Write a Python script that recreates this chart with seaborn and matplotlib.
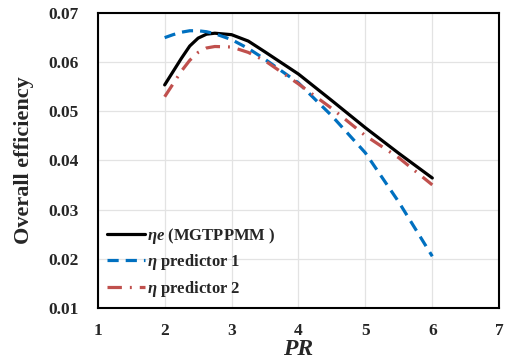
import numpy as np
import pandas as pd
import matplotlib
matplotlib.use("Agg")
import matplotlib.pyplot as plt
import seaborn as sns

pr = [2.0, 2.125, 2.25, 2.375, 2.5, 2.625, 2.75, 3.0, 3.25, 3.5, 4.0, 4.5, 5.0, 5.5, 6.0]
eta_e = [0.0553, 0.0580, 0.0607, 0.0632, 0.0648, 0.0656, 0.0658, 0.0655, 0.0642, 0.0620, 0.0575, 0.0521, 0.0466, 0.0414, 0.0364]
eta_p1 = [0.0649, 0.0655, 0.0660, 0.0663, 0.0663, 0.0661, 0.0657, 0.0645, 0.0627, 0.0605, 0.0557, 0.0490, 0.0415, 0.0315, 0.0205]
eta_p2 = [0.0529, 0.0555, 0.0581, 0.0603, 0.0619, 0.0628, 0.0631, 0.0630, 0.0619, 0.0602, 0.0555, 0.0505, 0.0450, 0.0405, 0.0350]

sns.set_style("whitegrid")
plt.rcParams['font.family'] = ['Liberation Serif', 'DejaVu Serif']
plt.rcParams['font.weight'] = 'bold'
plt.rcParams['mathtext.fontset'] = 'custom'
plt.rcParams['mathtext.it'] = 'Liberation Serif:italic:bold'
plt.rcParams['mathtext.rm'] = 'Liberation Serif:bold'
plt.rcParams['mathtext.bf'] = 'Liberation Serif:bold'

df = pd.DataFrame({"PR": pr, "e": eta_e, "p1": eta_p1, "p2": eta_p2})

fig = plt.figure(figsize=(5.2, 3.63), dpi=100)
ax = fig.add_axes([0.188, 0.1515, 0.772, 0.814])

sns.lineplot(x="PR", y="e", data=df, color="black", lw=2.3, ax=ax,
             label=r"$\eta e$ (MGTPPMM )")
sns.lineplot(x="PR", y="p1", data=df, color="#0070C0", lw=2.3, ax=ax,
             label=r"$\eta$ predictor 1")
sns.lineplot(x="PR", y="p2", data=df, color="#C0504D", lw=2.3, ax=ax,
             label=r"$\eta$ predictor 2")
ax.lines[1].set_dashes([3.5, 2.2])
ax.lines[2].set_dashes([4.5, 2.5, 0.6, 2.5])

ax.set_xlim(1, 7)
ax.set_ylim(0.01, 0.07)
ax.set_xticks([1, 2, 3, 4, 5, 6, 7])
ax.set_yticks([0.01, 0.02, 0.03, 0.04, 0.05, 0.06, 0.07])
ax.set_yticklabels(["0.01", "0.02", "0.03", "0.04", "0.05", "0.06", "0.07"])
ax.tick_params(labelsize=12.5, length=0)
ax.tick_params(axis="x", pad=11)
ax.tick_params(axis="y", pad=14)
for t in ax.get_xticklabels() + ax.get_yticklabels():
    t.set_fontweight('bold')
ax.grid(color="#e3e3e3", lw=0.9)
for s in ax.spines.values():
    s.set_color("black")
    s.set_linewidth(1.5)

ax.set_xlabel("PR", fontsize=17, fontweight="bold", fontstyle="italic", labelpad=0)
ax.set_ylabel("Overall efficiency", fontsize=16, fontweight="bold", labelpad=10)

leg = ax.legend(loc="lower left", frameon=False, fontsize=12, handlelength=2.3,
                handletextpad=0.1, borderaxespad=0.15, labelspacing=0.4)

fig.savefig("out.png", dpi=100)
